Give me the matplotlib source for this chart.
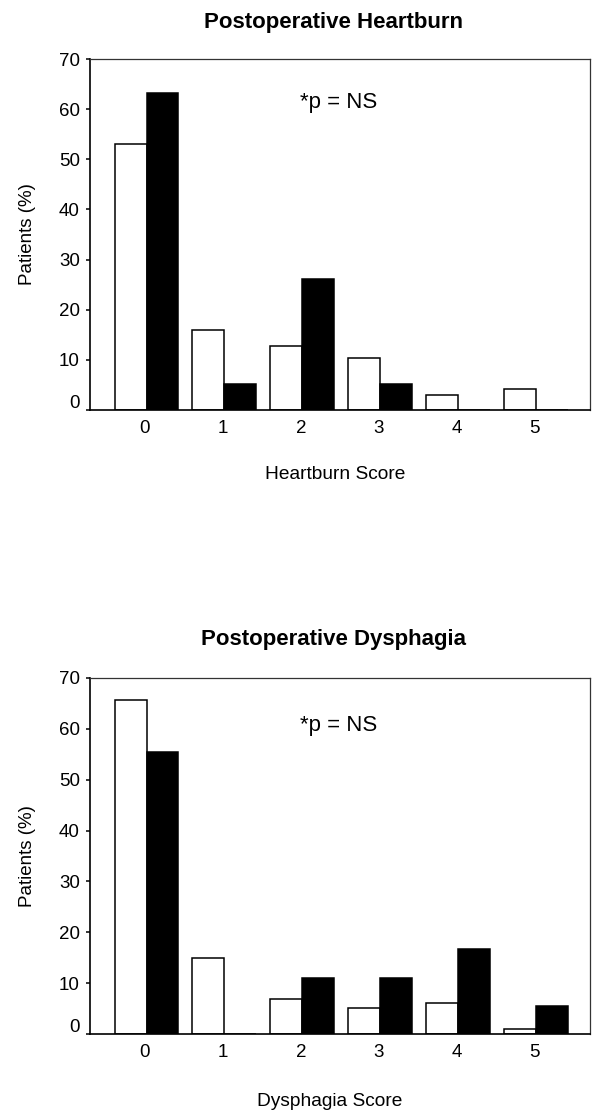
import matplotlib
matplotlib.use("Agg")
import matplotlib.pyplot as plt
import matplotlib.transforms as mtransforms
import numpy as np

plt.rcParams['font.family'] = ['Liberation Sans', 'DejaVu Sans']

scores = [0, 1, 2, 3, 4, 5]
score_labels = ["0", "1", "2", "3", "4", "5"]
yticks = [0, 10, 20, 30, 40, 50, 60, 70]

heartburn_white = [53.0, 16.0, 12.7, 10.4, 3.0, 4.2]
heartburn_black = [63.2, 5.2, 26.2, 5.2, 0.0, 0.0]

dysphagia_white = [65.6, 15.0, 6.9, 5.1, 6.0, 1.0]
dysphagia_black = [55.4, 0.0, 11.0, 11.0, 16.7, 5.6]

panels = [
    ("Postoperative Heartburn", "Heartburn Score", heartburn_white, heartburn_black),
    ("Postoperative Dysphagia", "Dysphagia Score", dysphagia_white, dysphagia_black),
]

fig = plt.figure(figsize=(5.92, 11.10), dpi=100)
W, H = 592, 1110
boxes = [(90, 59, 590, 410), (90, 678, 590, 1034)]
title_y = [1.105, 1.107]
xlabel_y = [-0.185, -0.19]
xlabel_x = [0.49, 0.48]
note_y = [61.3, 60.7]

x = np.array(scores, dtype=float)
bw = 0.41
for i, ((title, xlabel, white, black), (l, t, r, b)) in enumerate(zip(panels, boxes)):
    ax = fig.add_axes([l / W, 1 - b / H, (r - l) / W, (b - t) / H])
    ax.bar(x - 0.185, white, width=bw, color='white', edgecolor='black', linewidth=1.1)
    ax.bar(x + 0.225, black, width=bw, color='black', edgecolor='black', linewidth=1.1)
    ax.set_xlim(-0.705, 5.71)
    ax.set_ylim(0, 70)
    ax.set_yticks(yticks)
    ax.set_yticklabels([str(v) for v in yticks], fontsize=13.5)
    ax.set_xticks(x)
    ax.set_xticklabels(score_labels, fontsize=13.5)
    ax.tick_params(axis='x', length=0, pad=7.5)
    ax.tick_params(axis='y', length=3, width=1.1, direction='out', pad=4.3)
    # the zero label sits a little above its tick in the original
    lab0 = ax.get_yticklabels()[0]
    lab0.set_transform(lab0.get_transform() +
                       mtransforms.ScaledTranslation(0, 9 / 100, fig.dpi_scale_trans))
    for s in ['left', 'bottom']:
        ax.spines[s].set_linewidth(1.2)
    for s in ['top', 'right']:
        ax.spines[s].set_linewidth(0.9)
        ax.spines[s].set_color('#333333')
    ax.set_ylabel("Patients (%)", fontsize=13.5, va='center')
    ax.yaxis.set_label_coords(-0.124, 0.5)
    ax.set_xlabel(xlabel, fontsize=13.8, va='center')
    ax.xaxis.set_label_coords(xlabel_x[i], xlabel_y[i])
    ax.text(0.487, title_y[i], title, fontsize=16, fontweight='bold',
            ha='center', va='center', transform=ax.transAxes)
    ax.text(2.48, note_y[i], "*p = NS", fontsize=16, ha='center', va='center')

fig.savefig("out.png", dpi=100)
